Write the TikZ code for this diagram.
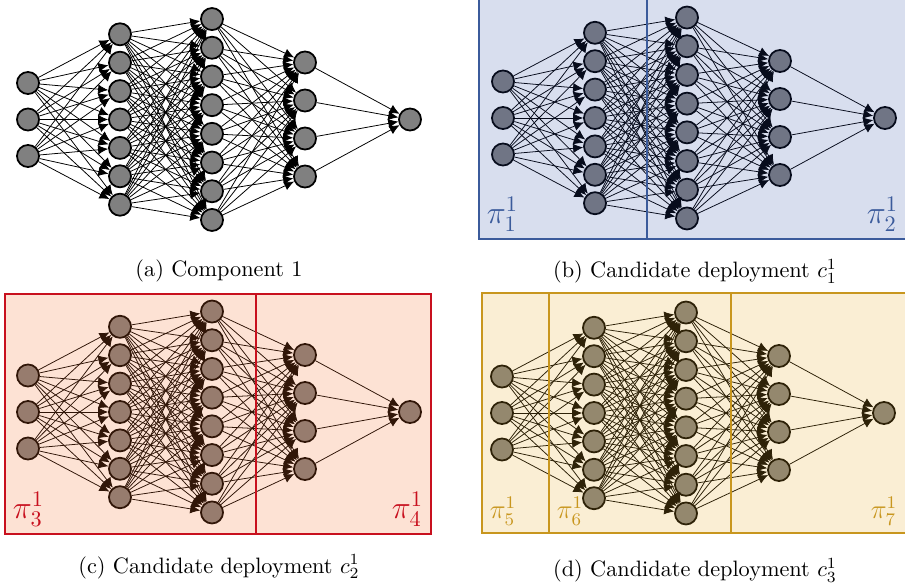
\documentclass[tikz,border=0pt]{standalone}
\usetikzlibrary{arrows.meta}
\definecolor{bluefill}{RGB}{40,70,160}
\definecolor{blueline}{RGB}{59,91,155}
\definecolor{redfill}{RGB}{245,110,40}
\definecolor{redline}{RGB}{200,16,30}
\definecolor{goldfill}{RGB}{230,170,40}
\definecolor{goldline}{RGB}{200,150,30}
\tikzset{
  neuron/.style={circle, draw, line width=0.8pt, fill=black!50, minimum size=9.9pt, inner sep=0pt},
  synapse/.style={-{Latex[length=4.5pt,width=4.2pt]}, line width=0.35pt},
  partition/.style={line width=0.8pt},
}
\newcommand{\drawnet}[3]{%
  \foreach \l/\n/\dx/\dy in {1/3/0/36.5, 2/7/92/28.4, 3/8/184/28.7, 4/4/277/38, 5/1/382/0}
    \foreach \i in {1,...,\n}
      \node[neuron] (#1-\l-\i) at ({#2+\dx}, {#3+(\i-(\n+1)/2)*\dy}) {};
  \foreach \l/\k/\n/\m in {1/2/3/7, 2/3/7/8, 3/4/8/4, 4/5/4/1}
    \foreach \i in {1,...,\n}
      \foreach \j in {1,...,\m}
        \draw[synapse] (#1-\l-\i) -- (#1-\k-\j);
}
\begin{document}
\begin{tikzpicture}[x=0.449pt, y=-0.449pt]
\useasboundingbox (0,0) rectangle (905,586);

\drawnet{a}{28}{119.5}
\drawnet{b}{503}{118}
\drawnet{c}{28}{412}
\drawnet{d}{502}{413}

\draw[partition, draw=blueline, fill=bluefill, fill opacity=0.18] (479,-1) rectangle (908,239);
\draw[partition, blueline] (647,-1) -- (647,239);
\node[anchor=south west, text=blueline, font=\Large] (pi1) at (479,239) {$\pi_1^1$};
\node[anchor=south east, text=blueline, font=\Large] (pi2) at (906,239) {$\pi_2^1$};

\draw[partition, draw=redline, fill=redfill, fill opacity=0.2] (5,294) rectangle (431,534);
\draw[partition, redline] (256,294) -- (256,534);
\node[anchor=south west, text=redline, font=\Large] (pi3) at (5,534) {$\pi_3^1$};
\node[anchor=south east, text=redline, font=\Large] (pi4) at (431,534) {$\pi_4^1$};

\draw[partition, draw=goldline, fill=goldfill, fill opacity=0.2] (482,293) rectangle (906,533);
\draw[partition, goldline] (549,293) -- (549,533);
\draw[partition, goldline] (731,293) -- (731,533);
\node[anchor=south west, text=goldline, font=\large] (pi5) at (482,533) {$\pi_5^1$};
\node[anchor=south west, text=goldline, font=\large] (pi6) at (549,533) {$\pi_6^1$};
\node[anchor=south east, text=goldline, font=\large] (pi7) at (905,533) {$\pi_7^1$};

\node[anchor=base] (capa) at (219,277) {(a) Component 1};
\node[anchor=base] (capb) at (695,278) {(b) Candidate deployment $c_1^1$};
\node[anchor=base] (capc) at (219,573) {(c) Candidate deployment $c_2^1$};
\node[anchor=base] (capd) at (695,577) {(d) Candidate deployment $c_3^1$};
\end{tikzpicture}
\end{document}
